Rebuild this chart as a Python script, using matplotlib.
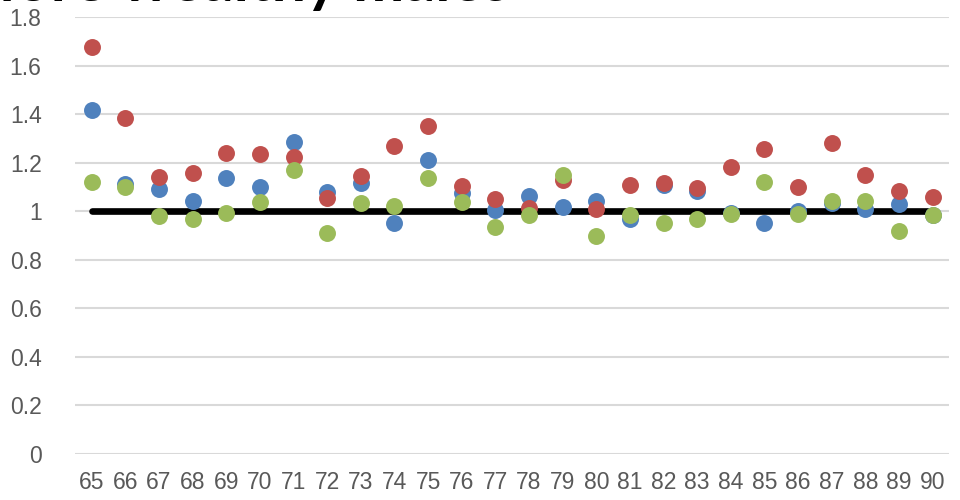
import matplotlib
matplotlib.use("Agg")
import matplotlib.pyplot as plt

ages = list(range(65, 91))
blue = [1.417, 1.112, 1.092, 1.044, 1.138, 1.099, 1.286, 1.078, 1.118, 0.951, 1.211, 1.077, 1.003,
        1.063, 1.016, 1.044, 0.967, 1.108, 1.085, 0.994, 0.953, 1.000, 1.033, 1.008, 1.030, 0.985]
red = [1.675, 1.383, 1.140, 1.156, 1.239, 1.236, 1.225, 1.053, 1.145, 1.269, 1.351, 1.104, 1.051,
       1.015, 1.129, 1.008, 1.110, 1.116, 1.095, 1.184, 1.255, 1.098, 1.282, 1.149, 1.082, 1.060]
green = [1.119, 1.101, 0.981, 0.968, 0.992, 1.040, 1.170, 0.912, 1.033, 1.022, 1.135, 1.038, 0.937,
         0.983, 1.149, 0.898, 0.985, 0.953, 0.967, 0.989, 1.119, 0.989, 1.042, 1.042, 0.920, 0.985]
ref_level = 1.0
title = "More wealthy males"
yticks = [0, 0.2, 0.4, 0.6, 0.8, 1, 1.2, 1.4, 1.6, 1.8]

fig = plt.figure(figsize=(9.6, 5), dpi=100)
ax = fig.add_axes([0.078, 0.092, 0.911, 0.874])

ax.plot([ages[0], ages[-1]], [ref_level, ref_level], color="black", lw=4.8,
        solid_capstyle="round", zorder=2)
ax.plot(ages, blue, "o", color="#4F81BD", ms=12.2, mew=0, zorder=3)
ax.plot(ages, red, "o", color="#C0504D", ms=12.2, mew=0, zorder=4)
ax.plot(ages, green, "o", color="#9BBB59", ms=12.2, mew=0, zorder=5)

ax.set_xlim(64.5, 90.5)
ax.set_ylim(0, 1.8)
ax.set_yticks(yticks)
ax.set_yticklabels([("%g" % v) for v in yticks])
ax.set_xticks(ages)
ax.set_xticklabels([str(a) for a in ages])
ax.grid(axis="y", color="#D9D9D9", lw=1.5, zorder=0)
ax.set_axisbelow(True)
for s in ax.spines.values():
    s.set_visible(False)
ax.tick_params(length=0, labelcolor="#595959", labelsize=16.5, pad=12)
for lab in ax.get_xticklabels() + ax.get_yticklabels():
    lab.set_fontfamily("Liberation Sans")
ax.tick_params(axis="y", pad=24)

# title sits mostly above the canvas, as in the reference
fig.text(0.531, 0.998, title, ha="right", va="baseline", fontsize=44,
         fontweight="bold", family=["Lato", "DejaVu Sans"], color="black")

fig.savefig("out.png", dpi=100)
